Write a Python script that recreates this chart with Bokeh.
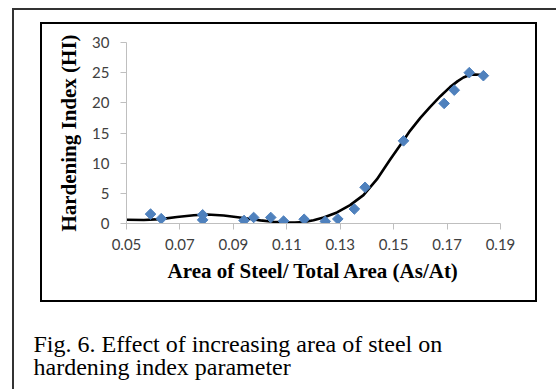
import numpy as np
from bokeh.plotting import figure
from bokeh.models import (Label, FixedTicker, NumeralTickFormatter, InlineStyleSheet,
                          Range1d, ColumnDataSource)
from bokeh.embed import file_html
from bokeh.resources import INLINE

# ---- data ----
steel_ratio = [0.059, 0.063, 0.0785, 0.0785, 0.094, 0.0976, 0.104, 0.1088, 0.1165,
               0.1244, 0.1291, 0.1353, 0.1393, 0.1537, 0.1689, 0.1727, 0.1783, 0.1836]
hardening_index = [1.56, 0.8, 1.44, 0.6, 0.5, 1.0, 1.0, 0.4, 0.7,
                   0.35, 0.75, 2.4, 6.0, 13.7, 19.9, 22.1, 25.0, 24.5]
# polynomial trendline as drawn in the reference
trend_x = [0.050, 0.0565, 0.0627, 0.0689, 0.0752, 0.0802, 0.0864, 0.0939, 0.1001,
           0.1050, 0.1090, 0.1130, 0.1165, 0.1200, 0.1238, 0.1288, 0.1337, 0.1387,
           0.1437, 0.1487, 0.1525, 0.1562, 0.1600, 0.1636, 0.1675, 0.1711, 0.1740,
           0.1761, 0.1785, 0.1805, 0.1822, 0.1836]
trend_y = [0.62, 0.57, 0.72, 1.08, 1.38, 1.48, 1.33, 0.92, 0.52,
           0.30, 0.20, 0.17, 0.25, 0.55, 1.0, 1.83, 3.05, 4.7,
           7.3, 10.6, 13.0, 15.4, 17.5, 19.3, 21.1, 22.6, 23.6,
           24.2, 24.6, 24.7, 24.65, 24.5]
x_ticks = [0.05, 0.07, 0.09, 0.11, 0.13, 0.15, 0.17, 0.19]
y_ticks = [0, 5, 10, 15, 20, 25, 30]
x_title = "Area of Steel/ Total Area (As/At)"
y_title = "Hardening Index (HI)"
caption_lines = ["Fig. 6. Effect of increasing area of steel on",
                 "hardening index parameter"]

W, H = 556, 389
FL, FR, FT, FB = 126, 500, 42, 223   # frame edges in canvas px
X0, X1, Y0, Y1 = x_ticks[0], x_ticks[-1], y_ticks[0], y_ticks[-1]


def dx(px):  # canvas px -> data x (for decorations outside the frame)
    return X0 + (px - FL) / (FR - FL) * (X1 - X0)


def dy(py):
    return Y0 + (FB - py) / (FB - FT) * (Y1 - Y0)


# page frame (outer, its right/bottom edges lie beyond the picture) and chart box
# (inner) drawn as CSS borders over the canvas
frames_css = InlineStyleSheet(css="""
:host { position: relative; overflow: hidden; }
:host::before {
  content: ""; position: absolute; box-sizing: border-box; pointer-events: none; z-index: 10;
  left: 12px; top: 8px; width: 544px; height: 381px;
  border-style: solid; border-color: #333333; border-width: 2px 0 0 2px;
}
:host::after {
  content: ""; position: absolute; box-sizing: border-box; pointer-events: none; z-index: 11;
  left: 40px; top: 22px; width: 497px; height: 280px; border: 2.5px solid #000000;
}
""")

p = figure(width=W, height=H, output_backend="svg", toolbar_location=None,
           x_range=Range1d(X0, X1), y_range=Range1d(Y0, Y1),
           min_border_left=FL, min_border_right=W - FR, min_border_top=FT,
           min_border_bottom=H - FB, stylesheets=[frames_css])
p.outline_line_color = None
p.background_fill_color = "white"
p.border_fill_color = "white"
p.xgrid.visible = False
p.ygrid.visible = False

p.line(trend_x, trend_y, line_color="black", line_width=2.6, line_join="round")

src = ColumnDataSource(dict(x=steel_ratio, y=hardening_index))
p.scatter("x", "y", source=src, marker="square", angle=np.pi / 4, size=7.5,
          fill_color="#4F81BD", line_color="#4F81BD")

for ax in (p.xaxis[0], p.yaxis[0]):
    ax.axis_line_color = "#BFBFBF"
    ax.major_tick_line_color = "#BFBFBF"
    ax.minor_tick_line_color = None
    ax.major_tick_in = 0
    ax.major_tick_out = 6
    ax.major_label_text_font = "Lato"
    ax.major_label_text_font_size = "15px"
    ax.major_label_text_color = "#404040"
    ax.axis_label_text_font = "Liberation Serif"
    ax.axis_label_text_font_style = "bold"
    ax.axis_label_text_color = "black"
    ax.axis_label_text_font_size = "21px"

p.xaxis[0].ticker = FixedTicker(ticks=x_ticks)
p.xaxis[0].formatter = NumeralTickFormatter(format="0.00")
p.xaxis[0].major_label_standoff = 9
p.xaxis[0].axis_label = x_title
p.xaxis[0].axis_label_standoff = 6

p.yaxis[0].ticker = FixedTicker(ticks=y_ticks)
p.yaxis[0].major_label_standoff = 11
p.yaxis[0].axis_label = y_title
p.yaxis[0].axis_label_standoff = 8

# caption (in a side panel so it is not clipped to the plotting frame)
for i, line in enumerate(caption_lines):
    p.add_layout(Label(x=dx(33), y=dy(343 + 23 * i),
                       text=line, text_font="Liberation Serif", text_font_size="24px",
                       text_color="black", text_baseline="alphabetic", text_align="left"),
                 "below")

open("out.html", "w").write(file_html(p, INLINE))
